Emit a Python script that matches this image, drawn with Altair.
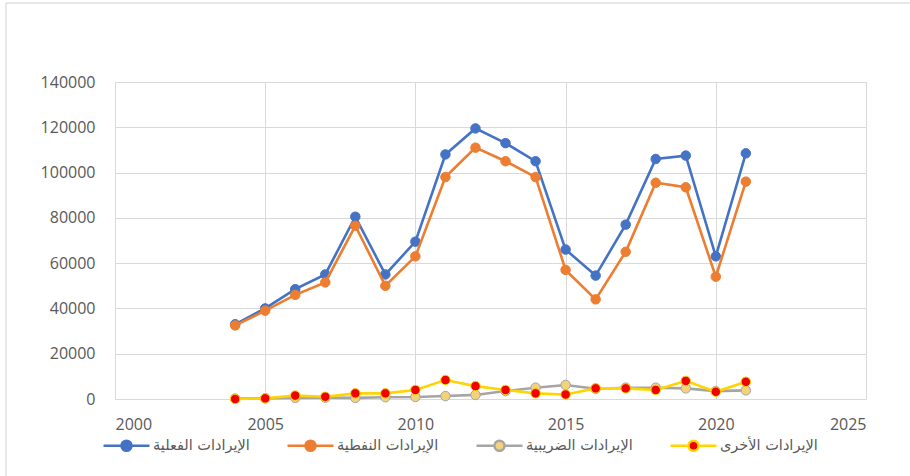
import altair as alt
import pandas as pd

# Revenue series by year
years = list(range(2004, 2022))
actual = [33000, 40000, 48500, 55000, 80500, 55000, 69500, 108000, 119500,
          113000, 105000, 66000, 54500, 77000, 106000, 107500, 63000, 108500]
oil = [32500, 39000, 46000, 51500, 76500, 50000, 63000, 98000, 111000,
       105000, 98000, 57000, 44000, 65000, 95500, 93500, 54000, 96000]
tax = [200, 300, 500, 600, 500, 800, 900, 1300, 1800,
       3500, 5000, 6200, 4500, 5000, 5000, 4700, 3500, 3800]
other = [0, 300, 1500, 1000, 2500, 2500, 4000, 8400, 5700,
         4000, 2500, 2000, 4700, 4700, 4000, 8000, 3200, 7600]

series_names = ["الإيرادات الفعلية", "الإيرادات النفطية",
                "الإيرادات الضريبية", "الإيرادات الأخرى"]
series_values = [actual, oil, tax, other]
line_colors = ["#4472C4", "#ED7D31", "#A5A5A5", "#FFD500"]
marker_colors = ["#4472C4", "#ED7D31", "#F2D27A", "#F00000"]

x_ticks = [2000, 2005, 2010, 2015, 2020, 2025]
y_ticks = [0, 20000, 40000, 60000, 80000, 100000, 120000, 140000]

frames = []
for name, vals in zip(series_names, series_values):
    frames.append(pd.DataFrame({"year": years, "value": vals, "series": name}))

GRID = "#D9D9D9"
TEXT = "#595959"
NUM_FONT = "Open Sans"

x_enc = alt.X("year:Q",
              scale=alt.Scale(domain=[2000, 2025], nice=False, zero=False),
              axis=alt.Axis(values=x_ticks, format="d", title=None, grid=True,
                            gridColor=GRID, domain=False, ticks=False,
                            labelPadding=17, labelFont=NUM_FONT,
                            labelFontSize=16, labelColor=TEXT))
y_enc = alt.Y("value:Q",
              scale=alt.Scale(domain=[0, 140000], nice=False),
              axis=alt.Axis(values=y_ticks, format="d", title=None, grid=True,
                            gridColor=GRID, domain=False, ticks=False,
                            labelPadding=20, labelFont=NUM_FONT,
                            labelFontSize=16, labelColor=TEXT))

stroke_scale = alt.Scale(domain=series_names, range=line_colors)
fill_scale = alt.Scale(domain=series_names, range=marker_colors)

# legend symbol: a short line with a dot in the middle
sym = ("M-1,0L-0.22,0M0.22,0L1,0"
       "M-0.22,0A0.22,0.22,0,1,0,0.22,0A0.22,0.22,0,1,0,-0.22,0Z")
legend = alt.Legend(title=None, orient="none", legendX=-13, legendY=339,
                    direction="horizontal", columns=4, columnPadding=32,
                    symbolType=sym, symbolSize=2116, symbolStrokeWidth=2.5,
                    labelFont="DejaVu Sans", labelFontSize=14.5,
                    labelColor=TEXT, labelOffset=2)

layers = []
for df in frames:
    base = alt.Chart(df).encode(x=x_enc, y=y_enc)
    line = base.mark_line(strokeWidth=2.6).encode(
        stroke=alt.Stroke("series:N", scale=stroke_scale, legend=legend))
    pts = base.mark_point(filled=True, size=90, strokeWidth=1, opacity=1).encode(
        fill=alt.Fill("series:N", scale=fill_scale, legend=legend),
        stroke=alt.Stroke("series:N", scale=stroke_scale, legend=legend))
    layers += [line, pts]

# thin frame along the top and left edges of the figure
frame_src = alt.Data(values=[{"k": 0}])
top_edge = alt.Chart(frame_src).mark_rule(color="#D0D0D0", strokeWidth=1).encode(
    x=alt.value(-109), x2=alt.value(800), y=alt.value(-79))
left_edge = alt.Chart(frame_src).mark_rule(color="#D0D0D0", strokeWidth=1).encode(
    x=alt.value(-109), y=alt.value(-79), y2=alt.value(400))

chart = alt.layer(top_edge, left_edge, *layers).properties(
    width=751, height=317,
    autosize=alt.AutoSizeParams(type="none"),
    padding={"left": 115, "top": 82, "right": 44, "bottom": 77},
    background="white",
).configure_view(stroke=GRID)

chart.save("out.html", embed_options={"renderer": "svg", "actions": False})
